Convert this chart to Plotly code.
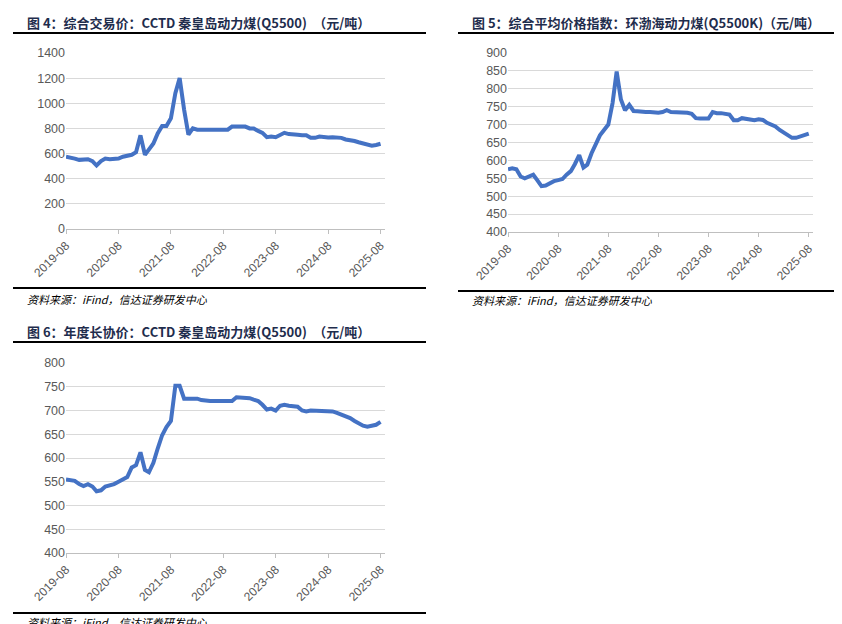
import plotly.graph_objects as go
import pandas as pd

dates = pd.date_range("2019-08-01", "2025-08-01", freq="MS").strftime("%Y-%m-%d").tolist()

cctd_trade = [575, 570, 560, 550, 555,
              555, 540, 505, 540, 560, 555, 555, 560, 575, 580, 590, 610,
              745, 590, 630, 680, 760, 820, 820, 880, 1080, 1200, 950, 750,
              800, 790, 790, 790, 790, 790, 790, 790, 790, 815, 815, 815,
              815, 800, 800, 780, 765, 730, 735, 730, 745, 765, 755, 755,
              750, 745, 745, 725, 725, 735, 730, 728, 730, 730, 725, 712,
              708, 700, 690, 680, 670, 662, 668, 678]
bohai_index = [575, 578, 575, 555, 550,
               555, 560, 545, 528, 530, 537, 542, 545, 548, 560, 570, 590,
               615, 580, 588, 620, 645, 670, 685, 700, 760, 848, 770, 740,
               755, 738, 737, 735, 735, 735, 733, 733, 735, 740, 735, 735,
               735, 733, 733, 730, 718, 717, 717, 717, 735, 732, 732, 730,
               728, 712, 712, 718, 716, 714, 712, 715, 713, 705, 700, 695,
               685, 678, 670, 663, 663, 667, 672, 675]
cctd_long = [555, 553, 552, 545, 541,
             545, 540, 530, 532, 540, 542, 545, 550, 555, 560, 580, 585,
             612, 575, 570, 590, 620, 648, 665, 678, 752, 752, 725, 725,
             725, 725, 722, 720, 720, 720, 720, 720, 720, 720, 728, 728,
             728, 726, 723, 720, 712, 702, 704, 700, 710, 712, 710, 710,
             708, 700, 698, 700, 700, 698, 698, 700, 698, 695, 692, 688,
             684, 678, 673, 668, 666, 667, 670, 676]

titles = ["图 4：综合交易价：CCTD 秦皇岛动力煤(Q5500)　（元/吨）",
          "图 5：综合平均价格指数：环渤海动力煤(Q5500K)（元/吨）",
          "图 6：年度长协价：CCTD 秦皇岛动力煤(Q5500)　（元/吨）"]
source = "资料来源：iFind，信达证券研发中心"

W, H = 842, 624
fx = lambda p: p / W
fy = lambda p: 1 - p / H

panels = [
    dict(data=cctd_trade, x0=58, x1=377, y0=45, y1=221, yr=[0, 1400], dt=200,
         tx=5, tx1=418, ty=14, uy=25, sy=280, st=291),
    dict(data=bohai_index, x0=500, x1=805, y0=45, y1=224, yr=[400, 900], dt=50,
         tx=450, tx1=836, ty=14, uy=25, sy=283, st=292),
    dict(data=cctd_long, x0=58, x1=377, y0=355, y1=545, yr=[400, 800], dt=50,
         tx=5, tx1=418, ty=323, uy=334, sy=605, st=614),
]

fig = go.Figure()
shapes, annos = [], []
layout = {}
for i, p in enumerate(panels, start=1):
    xa = "x" if i == 1 else f"x{i}"
    ya = "y" if i == 1 else f"y{i}"
    fig.add_trace(go.Scatter(x=dates, y=p["data"], mode="lines", xaxis=xa, yaxis=ya,
                             line=dict(color="#4472C4", width=4), showlegend=False,
                             hoverinfo="skip"))
    layout["xaxis" if i == 1 else f"xaxis{i}"] = dict(
        domain=[fx(p["x0"]), fx(p["x1"])], anchor=ya, type="date", automargin=False,
        range=["2019-08-01", "2025-09-01"], tick0="2019-08-01", dtick="M12",
        tickformat="%Y-%m", tickangle=-45, showgrid=False,
        showline=True, linecolor="#bfbfbf", ticks="outside", ticklen=4,
        tickcolor="#bfbfbf", tickfont=dict(family="Liberation Sans", size=12, color="#595959"))
    layout["yaxis" if i == 1 else f"yaxis{i}"] = dict(
        domain=[fy(p["y1"]), fy(p["y0"])], anchor=xa, range=p["yr"], dtick=p["dt"],
        automargin=False,
        showgrid=True, gridcolor="#d9d9d9", gridwidth=1, zeroline=False, showline=False,
        tickfont=dict(family="Liberation Sans", size=12.5, color="#595959"))
    shapes.append(dict(type="line", xref="paper", yref="paper", x0=fx(p["tx"]), x1=fx(p["tx1"]),
                       y0=fy(p["uy"]), y1=fy(p["uy"]), line=dict(color="black", width=2)))
    shapes.append(dict(type="line", xref="paper", yref="paper", x0=fx(p["tx"]), x1=fx(p["tx1"]),
                       y0=fy(p["sy"]), y1=fy(p["sy"]), line=dict(color="black", width=2)))
    annos.append(dict(text="<b>" + titles[i - 1] + "</b>", xref="paper", yref="paper",
                      x=fx(p["tx"] + 12), y=fy(p["ty"]), xanchor="left", yanchor="middle",
                      showarrow=False, font=dict(family="Noto Sans CJK SC", size=13, color="#1f2d4d")))
    annos.append(dict(text="<i>" + source + "</i>", xref="paper", yref="paper",
                      x=fx(p["tx"] + 12), y=fy(p["st"]), xanchor="left", yanchor="middle",
                      showarrow=False, font=dict(family="Noto Sans CJK SC", size=11, color="black")))

fig.update_layout(width=W, height=H, margin=dict(l=0, r=0, t=0, b=0, pad=0), autosize=False,
                  paper_bgcolor="white", plot_bgcolor="white",
                  shapes=shapes, annotations=annos, **layout)
fig.write_html("out.html")
